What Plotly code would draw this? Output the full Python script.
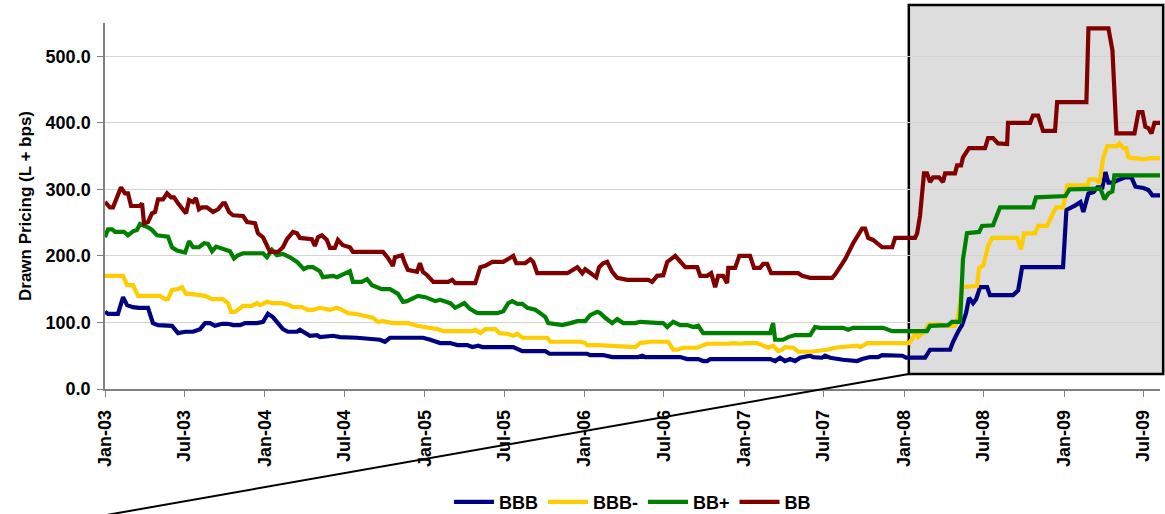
import pandas as pd
import plotly.graph_objects as go

# (decimal year, drawn pricing L + bps)
bbb = [(2003.000,116),(2003.019,113),(2003.081,113),(2003.113,138),(2003.138,126),(2003.175,123),(2003.213,122),(2003.269,122),(2003.300,99),(2003.332,96),(2003.419,95),(2003.457,84),(2003.501,86),(2003.551,86),(2003.595,90),(2003.626,99),(2003.657,99),(2003.688,95),(2003.732,98),(2003.770,98),(2003.801,96),(2003.845,96),(2003.876,99),(2003.951,99),(2003.989,101),(2004.020,113),(2004.051,108),(2004.083,99),(2004.114,90),(2004.145,86),(2004.202,86),(2004.220,89),(2004.252,84),(2004.283,80),(2004.327,81),(2004.345,78),(2004.427,80),(2004.471,78),(2004.577,77),(2004.721,74),(2004.752,71),(2004.784,77),(2004.890,77),(2004.959,78),(2004.990,77),(2005.034,74),(2005.096,69),(2005.159,69),(2005.203,66),(2005.265,66),(2005.297,63),(2005.334,65),(2005.359,63),(2005.491,63),(2005.534,62),(2005.553,63),(2005.610,57),(2005.754,57),(2005.779,53),(2005.866,53),(2005.910,54),(2006.016,53),(2006.035,51),(2006.116,51),(2006.173,48),(2006.335,48),(2006.361,50),(2006.379,48),(2006.598,48),(2006.642,45),(2006.711,45),(2006.742,42),(2006.767,42),(2006.786,45),(2007.162,45),(2007.193,42),(2007.224,47),(2007.255,42),(2007.287,45),(2007.318,42),(2007.349,47),(2007.393,48),(2007.412,50),(2007.431,48),(2007.487,47),(2007.506,50),(2007.537,47),(2007.618,44),(2007.706,42),(2007.737,45),(2007.787,48),(2007.837,48),(2007.862,51),(2007.988,50),(2008.013,47),(2008.132,47),(2008.163,59),(2008.288,59),(2008.307,71),(2008.338,86),(2008.363,96),(2008.388,114),(2008.407,137),(2008.432,129),(2008.451,135),(2008.476,153),(2008.520,153),(2008.538,141),(2008.682,141),(2008.714,148),(2008.739,183),(2008.995,183),(2009.014,269),(2009.070,276),(2009.102,281),(2009.120,266),(2009.152,294),(2009.183,296),(2009.208,303),(2009.239,303),(2009.258,326),(2009.277,310),(2009.302,310),(2009.339,314),(2009.383,318),(2009.421,318),(2009.446,304),(2009.496,302),(2009.527,299),(2009.552,291),(2009.602,291)]

bbb_minus = [(2003.000,170),(2003.113,170),(2003.138,156),(2003.175,156),(2003.207,140),(2003.344,140),(2003.375,135),(2003.394,135),(2003.419,149),(2003.457,150),(2003.482,153),(2003.507,143),(2003.532,143),(2003.595,141),(2003.626,140),(2003.670,135),(2003.738,135),(2003.770,129),(2003.789,116),(2003.814,116),(2003.864,125),(2003.920,125),(2003.951,129),(2003.970,126),(2004.014,131),(2004.051,129),(2004.108,129),(2004.158,126),(2004.177,123),(2004.233,123),(2004.270,119),(2004.302,119),(2004.345,122),(2004.408,119),(2004.452,122),(2004.483,119),(2004.521,114),(2004.564,113),(2004.615,111),(2004.677,107),(2004.708,101),(2004.740,102),(2004.802,99),(2004.896,99),(2004.953,95),(2005.015,93),(2005.078,90),(2005.115,87),(2005.297,87),(2005.315,89),(2005.347,84),(2005.378,90),(2005.441,90),(2005.466,84),(2005.516,83),(2005.553,80),(2005.578,83),(2005.610,77),(2005.766,77),(2005.785,71),(2005.973,71),(2006.004,69),(2006.016,66),(2006.079,66),(2006.141,65),(2006.267,63),(2006.317,63),(2006.348,69),(2006.411,71),(2006.523,71),(2006.555,59),(2006.580,59),(2006.617,62),(2006.705,62),(2006.736,65),(2006.767,68),(2006.899,68),(2006.930,69),(2006.974,68),(2007.005,69),(2007.080,69),(2007.149,62),(2007.180,65),(2007.212,57),(2007.237,59),(2007.255,63),(2007.306,62),(2007.337,56),(2007.412,56),(2007.475,57),(2007.518,59),(2007.568,62),(2007.650,63),(2007.706,65),(2007.725,63),(2007.769,69),(2008.031,69),(2008.056,77),(2008.075,86),(2008.088,78),(2008.119,84),(2008.157,97),(2008.225,97),(2008.250,95),(2008.319,95),(2008.338,108),(2008.363,153),(2008.457,155),(2008.470,182),(2008.495,185),(2008.526,215),(2008.551,227),(2008.707,227),(2008.732,210),(2008.751,234),(2008.820,234),(2008.839,245),(2008.895,245),(2008.932,264),(2008.951,273),(2008.995,273),(2009.020,306),(2009.145,306),(2009.158,315),(2009.195,315),(2009.220,309),(2009.245,348),(2009.270,365),(2009.333,365),(2009.346,369),(2009.371,362),(2009.389,362),(2009.402,348),(2009.458,347),(2009.496,345),(2009.540,347),(2009.602,347)]

bb_plus = [(2003.000,228),(2003.019,240),(2003.044,240),(2003.063,236),(2003.119,236),(2003.144,231),(2003.175,237),(2003.200,239),(2003.219,248),(2003.250,245),(2003.269,243),(2003.294,239),(2003.325,231),(2003.394,229),(2003.419,213),(2003.451,208),(2003.501,205),(2003.526,222),(2003.551,213),(2003.588,213),(2003.620,219),(2003.645,218),(2003.670,207),(2003.695,214),(2003.738,210),(2003.782,207),(2003.807,196),(2003.832,201),(2003.864,204),(2003.989,204),(2004.014,198),(2004.045,209),(2004.076,201),(2004.114,203),(2004.158,198),(2004.202,191),(2004.245,180),(2004.270,183),(2004.302,183),(2004.345,177),(2004.364,168),(2004.427,170),(2004.452,168),(2004.477,171),(2004.502,174),(2004.533,177),(2004.552,161),(2004.608,161),(2004.640,165),(2004.671,156),(2004.733,150),(2004.784,150),(2004.834,143),(2004.865,131),(2004.890,132),(2004.959,140),(2005.003,138),(2005.065,132),(2005.096,134),(2005.159,129),(2005.190,122),(2005.222,125),(2005.247,129),(2005.284,120),(2005.328,114),(2005.453,114),(2005.491,117),(2005.522,129),(2005.547,132),(2005.578,128),(2005.610,128),(2005.641,122),(2005.691,119),(2005.722,114),(2005.754,108),(2005.772,99),(2005.816,98),(2005.860,96),(2005.910,99),(2005.954,102),(2006.004,102),(2006.035,111),(2006.079,116),(2006.098,114),(2006.129,107),(2006.173,99),(2006.204,105),(2006.242,99),(2006.317,99),(2006.348,101),(2006.473,99),(2006.492,99),(2006.517,93),(2006.555,101),(2006.598,96),(2006.642,96),(2006.680,93),(2006.711,95),(2006.742,84),(2007.162,84),(2007.180,99),(2007.193,74),(2007.243,74),(2007.274,78),(2007.318,81),(2007.412,81),(2007.443,93),(2007.475,92),(2007.618,92),(2007.650,89),(2007.681,92),(2007.869,92),(2007.925,87),(2008.144,87),(2008.163,95),(2008.275,96),(2008.301,101),(2008.351,101),(2008.369,195),(2008.394,234),(2008.470,236),(2008.488,245),(2008.557,246),(2008.601,273),(2008.807,273),(2008.826,288),(2009.008,290),(2009.033,300),(2009.227,301),(2009.252,285),(2009.277,294),(2009.302,297),(2009.314,321),(2009.602,321)]

bb = [(2003.000,281),(2003.031,273),(2003.050,273),(2003.100,303),(2003.125,294),(2003.144,294),(2003.163,275),(2003.219,275),(2003.232,279),(2003.244,249),(2003.269,251),(2003.294,264),(2003.313,266),(2003.332,285),(2003.363,285),(2003.388,294),(2003.413,288),(2003.432,288),(2003.457,279),(2003.482,272),(2003.507,264),(2003.526,284),(2003.551,281),(2003.569,287),(2003.588,270),(2003.607,273),(2003.638,273),(2003.676,266),(2003.707,270),(2003.738,279),(2003.751,279),(2003.776,266),(2003.801,261),(2003.864,260),(2003.889,251),(2003.939,249),(2003.957,234),(2003.989,228),(2004.014,216),(2004.033,206),(2004.083,206),(2004.114,213),(2004.139,225),(2004.177,236),(2004.202,234),(2004.220,227),(2004.295,225),(2004.314,215),(2004.333,228),(2004.358,231),(2004.389,224),(2004.408,212),(2004.439,212),(2004.458,224),(2004.489,216),(2004.533,213),(2004.552,206),(2004.740,206),(2004.771,197),(2004.802,185),(2004.815,198),(2004.859,201),(2004.877,189),(2004.896,179),(2004.953,176),(2004.971,189),(2004.990,176),(2005.015,171),(2005.053,161),(2005.146,161),(2005.171,164),(2005.190,159),(2005.315,159),(2005.347,183),(2005.378,185),(2005.422,191),(2005.491,191),(2005.522,195),(2005.553,200),(2005.572,189),(2005.628,189),(2005.660,195),(2005.678,191),(2005.703,174),(2005.891,174),(2005.954,183),(2005.985,174),(2006.004,180),(2006.035,174),(2006.073,168),(2006.091,183),(2006.116,189),(2006.141,191),(2006.173,176),(2006.204,167),(2006.267,164),(2006.398,164),(2006.423,161),(2006.454,170),(2006.492,171),(2006.517,191),(2006.548,197),(2006.567,200),(2006.586,195),(2006.630,183),(2006.705,183),(2006.724,170),(2006.767,170),(2006.792,174),(2006.817,153),(2006.836,170),(2006.867,170),(2006.892,159),(2006.899,182),(2006.942,182),(2006.968,200),(2007.036,200),(2007.061,182),(2007.099,182),(2007.118,188),(2007.143,188),(2007.168,174),(2007.337,174),(2007.362,170),(2007.412,167),(2007.550,167),(2007.568,172),(2007.612,188),(2007.631,195),(2007.681,219),(2007.737,241),(2007.756,241),(2007.775,227),(2007.806,224),(2007.862,213),(2007.925,213),(2007.944,227),(2008.069,227),(2008.082,234),(2008.100,260),(2008.125,324),(2008.144,324),(2008.163,311),(2008.182,318),(2008.219,318),(2008.244,311),(2008.257,324),(2008.319,324),(2008.332,336),(2008.357,336),(2008.369,348),(2008.407,362),(2008.507,362),(2008.526,377),(2008.557,377),(2008.588,369),(2008.620,368),(2008.645,368),(2008.651,400),(2008.789,400),(2008.807,411),(2008.839,411),(2008.870,388),(2008.945,388),(2008.958,431),(2009.139,431),(2009.152,542),(2009.277,542),(2009.302,509),(2009.327,384),(2009.440,384),(2009.465,416),(2009.490,416),(2009.508,394),(2009.527,392),(2009.546,384),(2009.565,400),(2009.602,400)]

series_names = ["BBB", "BBB-", "BB+", "BB"]
series_colors = ["#000080", "#FFCC00", "#008000", "#800000"]
series_data = [bbb, bbb_minus, bb_plus, bb]

x_start, x_end = "2003-01-01", "2009-08-08"
highlight_start = 2008.03  # shaded period begins


def yr_to_date(t):
    y = int(t)
    return pd.Timestamp(year=y, month=1, day=1) + pd.Timedelta(days=(t - y) * 365.25)


FONT = "Liberation Sans, Arial, sans-serif"

fig = go.Figure()
for name, color, data in zip(series_names, series_colors, series_data):
    fig.add_trace(go.Scatter(
        x=[yr_to_date(t) for t, _ in data],
        y=[v for _, v in data],
        mode="lines", name=name,
        line=dict(color=color, width=4.2),
    ))

x0p = (yr_to_date(highlight_start) - pd.Timestamp(x_start)) / (pd.Timestamp(x_end) - pd.Timestamp(x_start))

# shaded zoom box
fig.add_shape(type="rect", xref="paper", yref="paper", x0=x0p, x1=1.003, y0=0.041, y1=1.049,
              fillcolor="#DDDDDD", line=dict(width=0), layer="below")
fig.add_shape(type="rect", xref="paper", yref="paper", x0=x0p, x1=1.003, y0=0.041, y1=1.049,
              fillcolor="rgba(0,0,0,0)", line=dict(color="black", width=2.5), layer="between")
fig.add_shape(type="line", xref="paper", yref="paper", x0=x0p, y0=0.041, x1=0.0, y1=-0.345,
              line=dict(color="black", width=2), layer="above")

fig.update_layout(
    width=1165, height=514,
    margin=dict(l=105, r=5, t=23, b=125, autoexpand=False),
    plot_bgcolor="white", paper_bgcolor="white",
    font=dict(family=FONT, color="black"),
    legend=dict(orientation="h", x=0.5, xanchor="center", y=-0.309, yanchor="middle",
                font=dict(size=18, family=FONT, weight="bold", color="black"),
                itemwidth=40, bgcolor="rgba(0,0,0,0)"),
    xaxis=dict(type="date", range=[x_start, x_end], tick0="2003-01-01", dtick="M6",
               tickformat="%b-%y", tickangle=-90, ticks="outside", ticklen=6,
               tickcolor="#808080", showline=True, linecolor="#808080", linewidth=1.5,
               showgrid=False, zeroline=False, ticklabelstandoff=6,
               tickfont=dict(size=18, family=FONT, weight="bold", color="black")),
    yaxis=dict(range=[0, 550], dtick=100, tickformat=".1f", ticks="outside", ticklen=6,
               tickcolor="#808080", showline=True, linecolor="#808080", linewidth=1.5,
               showgrid=True, gridcolor="#d4d4d4", gridwidth=1, zeroline=False,
               ticklabelstandoff=3,
               tickfont=dict(size=18, family=FONT, weight="bold", color="black"),
               title=dict(text="Drawn Pricing (L + bps)", standoff=10,
                          font=dict(size=17, family=FONT, weight="bold", color="black"))),
)

fig.write_html("out.html")
